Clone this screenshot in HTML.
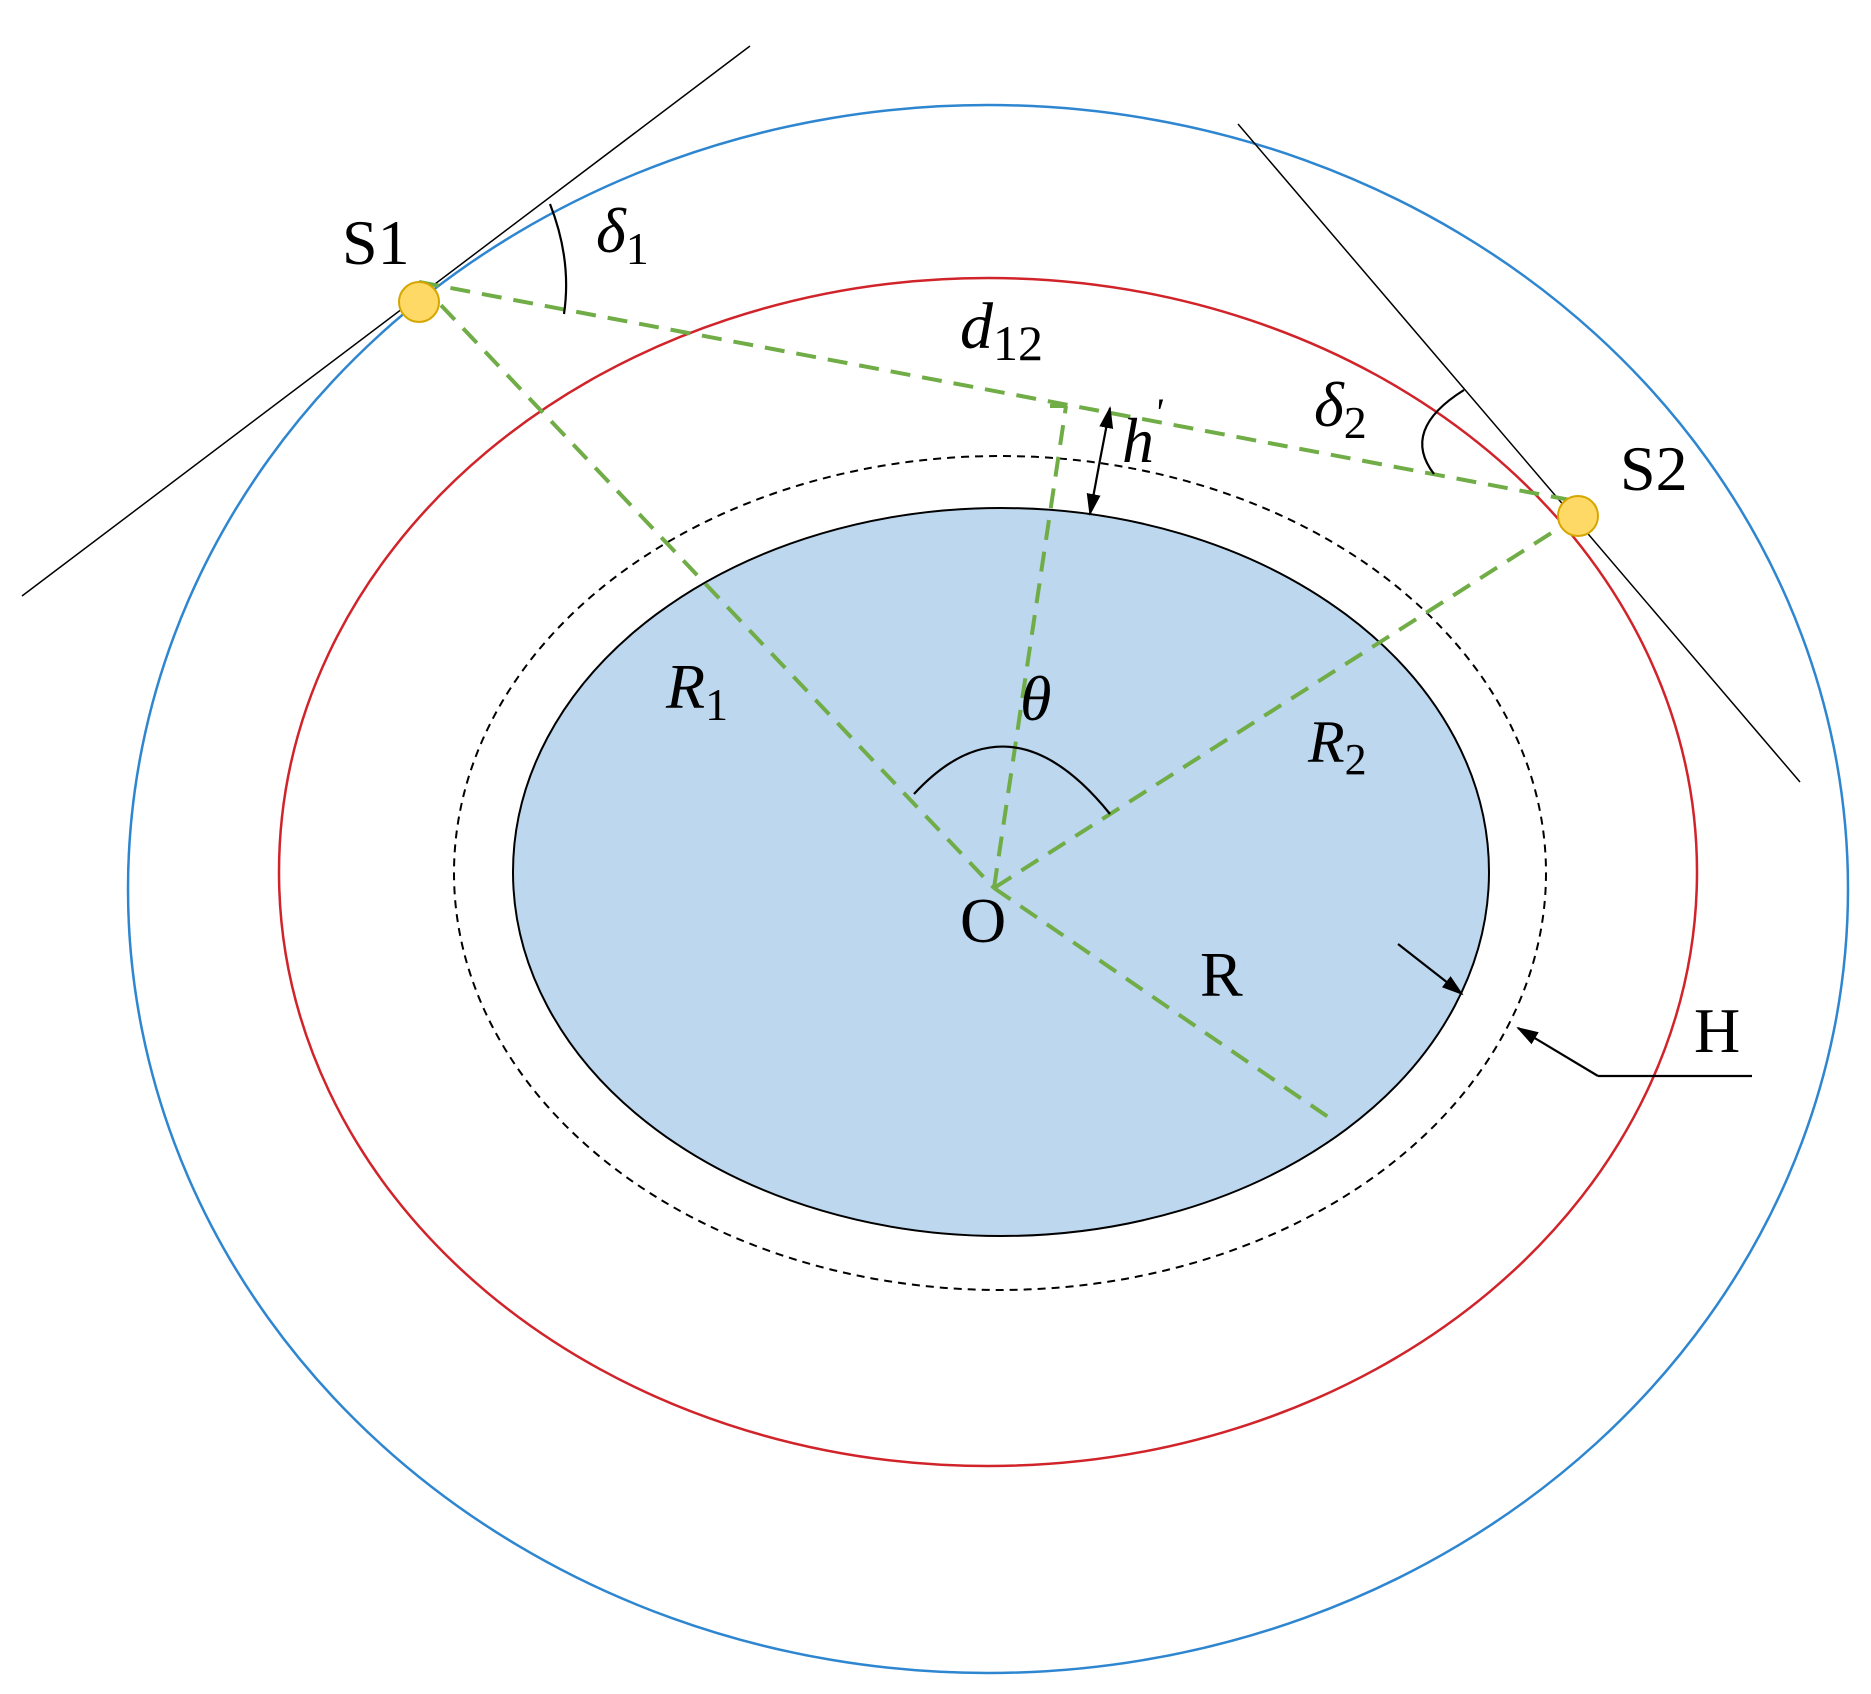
<!DOCTYPE html>
<html><head><style>body{margin:0;background:#fff}svg{display:block}text{font-family:"Liberation Serif","Times New Roman",serif;fill:#000}</style></head>
<body>
<svg width="1871" height="1694" viewBox="0 0 1871 1694" xmlns="http://www.w3.org/2000/svg">
<defs><marker id="a" markerWidth="22" markerHeight="16" refX="20" refY="8" orient="auto" markerUnits="userSpaceOnUse" viewBox="0 0 22 16"><path d="M0,1 L22,8 L0,15z" fill="#000"/></marker></defs>
<ellipse cx="988" cy="889" rx="860" ry="784" fill="none" stroke="#2e86d0" stroke-width="2.5"/>
<ellipse cx="988" cy="872" rx="709" ry="594" fill="none" stroke="#d0242a" stroke-width="2.5"/>
<ellipse cx="1000" cy="873" rx="546" ry="417" fill="none" stroke="#000" stroke-width="2" stroke-dasharray="8,6"/>
<ellipse cx="1001" cy="872" rx="488" ry="364" fill="#bdd7ee" stroke="#000" stroke-width="2"/>
<line x1="22" y1="596" x2="750" y2="46" stroke="#000" stroke-width="1.5"/>
<line x1="1238" y1="124" x2="1800" y2="782" stroke="#000" stroke-width="1.5"/>
<g stroke="#70ad47" stroke-width="4" stroke-dasharray="20,12" fill="none">
<line x1="419" y1="282" x2="1570" y2="500"/>
<line x1="419" y1="282" x2="994" y2="888"/>
<line x1="1578" y1="516" x2="994" y2="888"/>
<line x1="994" y1="888" x2="1334" y2="1121"/>
<line x1="994" y1="888" x2="1066" y2="406"/>
<line x1="1050" y1="406" x2="1066" y2="406"/>
</g>
<circle cx="419" cy="302" r="20" fill="#ffd966" stroke="#d6a600" stroke-width="2"/>
<circle cx="1578" cy="516" r="20" fill="#ffd966" stroke="#d6a600" stroke-width="2"/>
<g stroke="#000" stroke-width="2.2" fill="none">
<path d="M914,794 Q1010,690 1110,814"/>
<path d="M550,204 Q572,260 564,314"/>
<path d="M1464,390 Q1400,430 1434,474"/>
<line x1="1100" y1="460" x2="1110" y2="408" marker-end="url(#a)"/>
<line x1="1100" y1="460" x2="1090" y2="514" marker-end="url(#a)"/>
<line x1="1398" y1="944" x2="1462" y2="994" marker-end="url(#a)"/>
<line x1="1598" y1="1076" x2="1518" y2="1028" marker-end="url(#a)"/>
<line x1="1598" y1="1076" x2="1752" y2="1076"/>
</g>
<text x="342" y="264" font-size="64">S1</text>
<text x="596" y="252" font-size="64" font-style="italic">δ<tspan font-size="46" font-style="normal" dy="12">1</tspan></text>
<text x="960" y="348" font-size="66" font-style="italic">d<tspan font-size="50" font-style="normal" dy="12">12</tspan></text>
<text x="1122" y="462" font-size="64" font-style="italic">h<tspan font-size="40" dy="-36">'</tspan></text>
<text x="1314" y="426" font-size="64" font-style="italic">δ<tspan font-size="46" font-style="normal" dy="12">2</tspan></text>
<text x="1620" y="490" font-size="64">S2</text>
<text x="666" y="708" font-size="64" font-style="italic">R<tspan font-size="46" font-style="normal" dy="12">1</tspan></text>
<text x="1020" y="720" font-size="64" font-style="italic">θ</text>
<text x="1308" y="762" font-size="60" font-style="italic">R<tspan font-size="44" font-style="normal" dy="12">2</tspan></text>
<text x="960" y="942" font-size="64">O</text>
<text x="1200" y="996" font-size="64">R</text>
<text x="1694" y="1052" font-size="64">H</text>
</svg>
</body></html>
